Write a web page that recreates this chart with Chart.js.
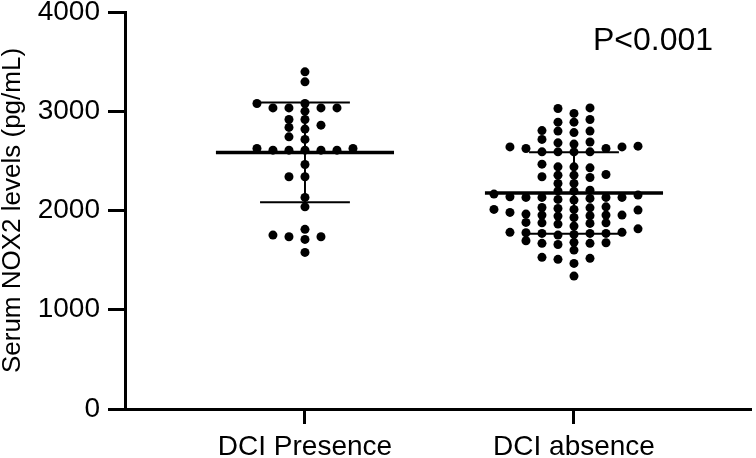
<!DOCTYPE html>
<html>
<head>
<meta charset="utf-8">
<script src="https://cdn.jsdelivr.net/npm/chart.js@4/dist/chart.umd.min.js"></script>
<style>
  html, body { margin: 0; padding: 0; background: #fff; }
  canvas { display: block; }
</style>
</head>
<body>
<canvas id="myChart" width="756" height="458"></canvas>
<script>
// values (pg/mL)
const categories = ['DCI Presence', 'DCI absence'];

const presenceValues = [
  3397, 3296, 3078, 3078, 3034, 3034, 3034, 3034, 3001, 2917, 2917, 2860,
  2837, 2820, 2742, 2716, 2625, 2625, 2608, 2608, 2608, 2608, 2608, 2464,
  2340, 2340, 2132, 2037, 1810, 1752, 1735, 1735, 1709, 1578
];

const absenceValues = [
  2641, 2138, 2011,
  2669, 2155, 2037, 1954, 1863, 1769,
  2641, 2273, 2165, 2030, 1944, 1815, 1679,
  2805, 2690, 2590, 2440, 2340, 2132, 1954, 1843, 1752, 1669, 1518,
  3028, 2890, 2800, 2716, 2356, 2132, 1981, 1880, 1780, 1669,
  3034, 2917, 2800, 2591, 2440, 2363, 2205, 2112, 2011, 1876, 1780, 1695, 1601, 1467, 1339,
  2978, 2890, 2785, 2682, 2591, 2467, 2356, 2273, 2198, 2105, 2004, 1870, 1769, 1675, 1528,
  2591, 2430, 2333, 2195, 1947, 1759, 1508,
  2648, 2122, 1964, 1876, 1769, 1658,
  2625, 2132, 2027, 1954, 1776,
  2625, 2132, 2021, 1930
];

const groupMeans = [2585, 2176];
const groupSDs = [502, 411];

const yTicks = [0, 1000, 2000, 3000, 4000];
const pValueText = 'P<0.001';

// layout constants
const FONT = '"Liberation Sans", Arial, Helvetica, sans-serif';
const colStep = 0.0595;   // horizontal spacing of dots, in x units
const minGap = 75;        // dots closer than this (pg/mL) go to a new column
const meanHalf = 0.331;
const capHalf = 0.167;

// simple column beeswarm: centre first, then alternate left / right
function swarm(values, center) {
  const placed = [];
  return [...values].sort((a, b) => a - b).map(v => {
    for (let k = 0; ; k++) {
      const col = k === 0 ? 0 : (k % 2 ? -(k + 1) / 2 : k / 2);
      const clash = placed.some(p => p.col === col && Math.abs(p.v - v) < minGap);
      if (!clash) {
        placed.push({ v, col });
        return { x: center + col * colStep, y: v };
      }
    }
  });
}

const lineStyle = (data, width) => ({
  data,
  showLine: true,
  borderColor: '#000',
  borderWidth: width,
  pointRadius: 0,
  fill: false
});

const datasets = [];
[presenceValues, absenceValues].forEach((vals, i) => {
  datasets.push({
    data: swarm(vals, i + 1),
    backgroundColor: '#000',
    borderColor: '#000',
    pointRadius: 4.5,
    pointBorderWidth: 0
  });
});
groupMeans.forEach((m, i) => {
  const c = i + 1, sd = groupSDs[i];
  datasets.push(lineStyle([{ x: c, y: m - sd }, { x: c, y: m + sd }], 2));
  datasets.push(lineStyle([{ x: c - capHalf, y: m + sd }, { x: c + capHalf, y: m + sd }], 2));
  datasets.push(lineStyle([{ x: c - capHalf, y: m - sd }, { x: c + capHalf, y: m - sd }], 2));
  datasets.push(lineStyle([{ x: c - meanHalf, y: m }, { x: c + meanHalf, y: m }], 3.5));
});

const pValuePlugin = {
  id: 'pValue',
  afterDraw(chart) {
    const ctx = chart.ctx;
    ctx.save();
    ctx.font = '32px ' + FONT;
    ctx.fillStyle = '#000';
    ctx.textAlign = 'left';
    ctx.textBaseline = 'alphabetic';
    ctx.fillText(pValueText, 593, 50);
    ctx.restore();
  }
};

Chart.defaults.color = '#000';
Chart.defaults.font.family = FONT;

const ctx = document.getElementById('myChart').getContext('2d');
new Chart(ctx, {
  type: 'scatter',
  data: { datasets },
  plugins: [pValuePlugin],
  options: {
    responsive: false,
    animation: false,
    devicePixelRatio: 1,
    layout: { padding: { top: 12, right: 5, left: 0, bottom: 0 } },
    plugins: { legend: { display: false }, tooltip: { enabled: false } },
    scales: {
      x: {
        type: 'linear',
        min: 0.331,
        max: 2.658,
        afterBuildTicks: s => { s.ticks = categories.map((_, i) => ({ value: i + 1 })); },
        afterFit: s => { s.height = 49; s.paddingLeft = 0; s.paddingRight = 0; },
        ticks: {
          callback: v => categories[Math.round(v) - 1] || '',
          font: { size: 28, lineHeight: 1 },
          padding: 9,
          autoSkip: false,
          maxRotation: 0
        },
        grid: { drawOnChartArea: false, tickLength: 15, tickWidth: 3, tickColor: '#000' },
        border: { width: 3, color: '#000' }
      },
      y: {
        min: 0,
        max: 4000,
        afterBuildTicks: s => { s.ticks = yTicks.map(v => ({ value: v })); },
        afterFit: s => { s.width = 125; s.paddingTop = 0; s.paddingBottom = 0; },
        ticks: { callback: v => String(v), font: { size: 28, lineHeight: 1 }, padding: 8 },
        grid: { drawOnChartArea: false, tickLength: 17, tickWidth: 3, tickColor: '#000' },
        border: { width: 3, color: '#000' },
        title: {
          display: true,
          text: 'Serum NOX2 levels (pg/mL)',
          font: { size: 26, lineHeight: 1 },
          padding: 0
        }
      }
    }
  }
});
</script>
</body>
</html>
